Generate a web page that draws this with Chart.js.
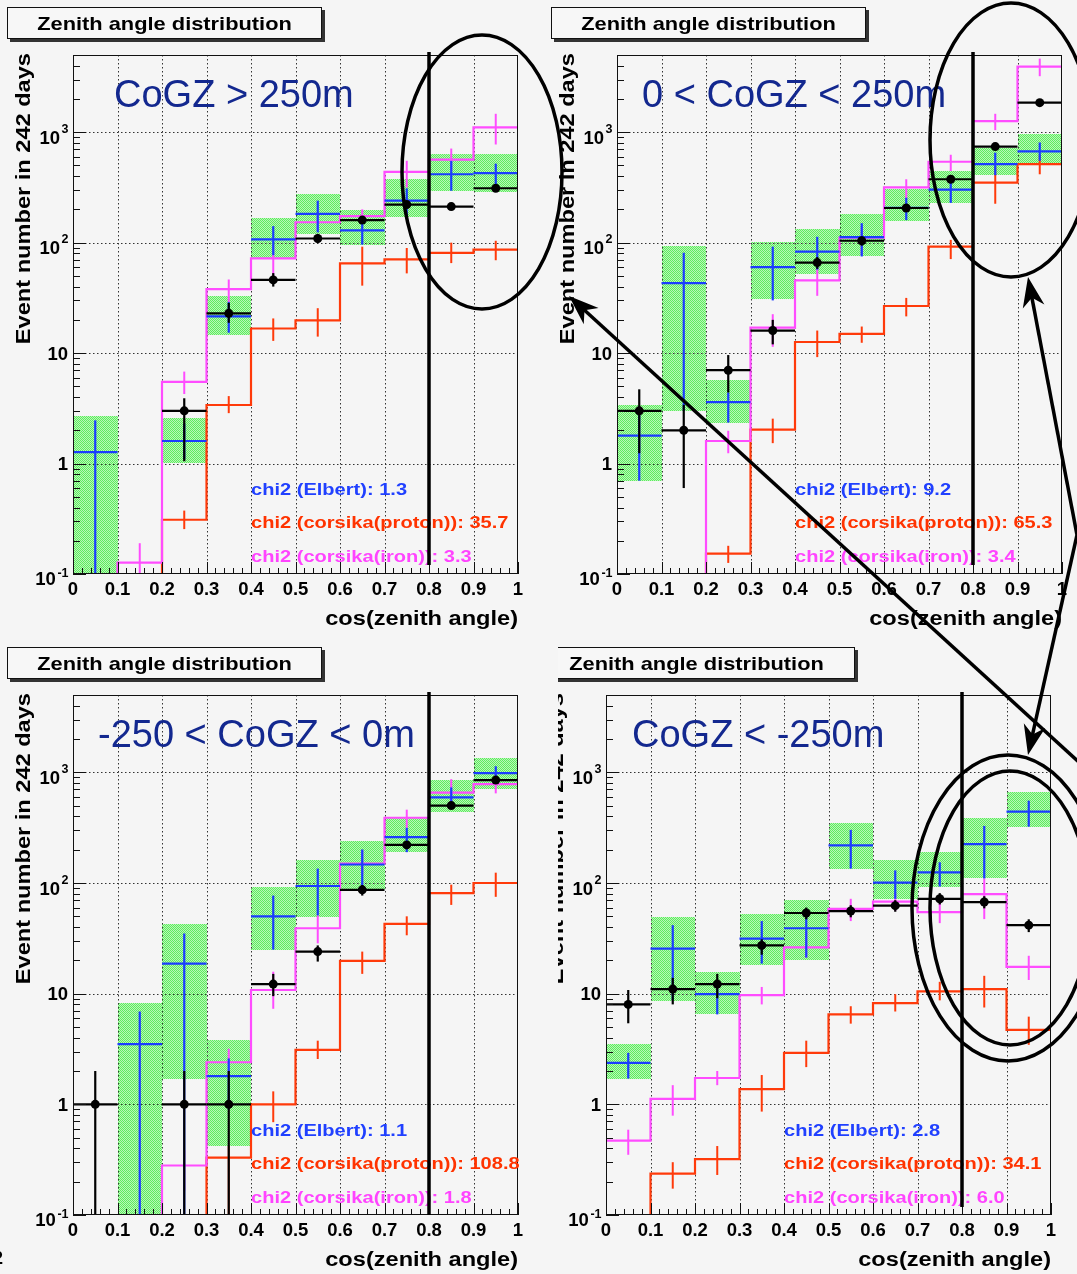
<!DOCTYPE html>
<html>
<head>
<meta charset="utf-8">
<script src="https://cdn.jsdelivr.net/npm/chart.js@4.4.1/dist/chart.umd.min.js"></script>
<style>
  html, body { margin: 0; padding: 0; background: #f5f5f5; }
  #page { position: relative; width: 1077px; height: 1274px; overflow: hidden; background: #f5f5f5; }
  #page canvas { position: absolute; }
  #overlay { z-index: 5; }
</style>
</head>
<body>
<div id="page">
  <canvas id="c1"></canvas>
  <canvas id="c2"></canvas>
  <canvas id="c3"></canvas>
  <canvas id="c4"></canvas>
  <canvas id="overlay" width="1077" height="1274" style="left:0;top:0"></canvas>
</div>
<script>
// ---- shared axis data
const binEdges = [0, 0.1, 0.2, 0.3, 0.4, 0.5, 0.6, 0.7, 0.8, 0.9, 1];
const xTickLabels = ['0', '0.1', '0.2', '0.3', '0.4', '0.5', '0.6', '0.7', '0.8', '0.9', '1'];
const yTickValues = [0.1, 1, 10, 100, 1000];
const yTickBase = ['10', '1', '10', '10', '10'];
const yTickExp = ['-1', '', '', '2', '3'];
const yMin = 0.1, yMax = 5000;
const cutValue = 0.8;

const panelTitle = 'Zenith angle distribution';
const xTitle = 'cos(zenith angle)';
const yTitle = 'Event number in 242 days';
const regionLabels = ['CoGZ > 250m', '0 < CoGZ < 250m', '-250 < CoGZ < 0m', 'CoGZ < -250m'];
const chi2Elbert = ['1.3', '9.2', '1.1', '2.8'];
const chi2Proton = ['35.7', '65.3', '108.8', '34.1'];
const chi2Iron = ['3.3', '3.4', '1.8', '6.0'];

// ---- panel 1: CoGZ > 250m
const bandLo1 = [0.1, null, 1.02, 14.7, 73, 120, 96, 170, 295, 288];
const bandHi1 = [2.67, null, 2.6, 33, 167, 275, 198, 375, 637, 637];
const elbert1 = [1.27, null, 1.6, 21.5, 107, 182, 129, 240, 416, 426];
const elbertLo1 = [0.1, null, 1.1, 15.3, 77, 124, 96, 174, 295, 330];
const elbertHi1 = [2.46, null, 2.3, 29, 141, 240, 170, 310, 550, 519];
const data1 = [null, null, 3.0, 22.9, 46, 109, 160, 221, 212, 311];
const dataLo1 = [null, null, 1.05, 18.8, 40, 99, 148, 207, 198, 294];
const dataHi1 = [null, null, 3.9, 28.5, 53, 120, 173, 236, 227, 329];
const proton1 = [0.1, 0.1, 0.31, 3.39, 16.7, 19.8, 65, 70.5, 80.7, 86.5];
const protonLo1 = [null, null, 0.255, 2.86, 12.9, 14.1, 40.8, 52.7, 65.3, 69.3];
const protonHi1 = [null, null, 0.375, 4.08, 20.6, 25.5, 92, 89.5, 100, 104];
const iron1 = [0.1, 0.127, 5.5, 38, 72, 153, 174, 437, 565, 1106];
const ironLo1 = [null, 0.1, 4.26, 29, 44.5, 130, 150, 316, 445, 774];
const ironHi1 = [null, 0.19, 6.8, 46.4, 95.7, 185, 200, 551, 711, 1468];

// ---- panel 2: 0 < CoGZ < 250m
const bandLo2 = [0.70, 3.0, 2.35, 31, 52, 75, 156, 229, 408, 527];
const bandHi2 = [3.36, 93.5, 5.7, 101, 132, 182, 308, 445, 723, 958];
const elbert2 = [1.79, 43, 3.6, 60, 83, 112, 207, 302, 514, 670];
const elbertLo2 = [0.7, 3.0, 2.35, 30, 57, 75, 160, 229, 408, 551];
const elbertHi2 = [3.16, 81, 4.4, 92, 113, 150, 255, 408, 653, 807];
const data2 = [3.0, 2.0, 7.0, 16, 66, 104, 206, 375, 741, 1850];
const dataLo2 = [1.24, 0.6, 4.4, 12, 58, 94, 192, 356, 714, 1807];
const dataHi2 = [4.7, 3.4, 9.6, 20, 74, 114, 220, 394, 768, 1893];
const proton2 = [0.1, 0.1, 0.153, 2.03, 12.6, 14.9, 26.7, 92, 350, 514];
const protonLo2 = [null, null, 0.126, 1.53, 9.2, 12.4, 21.5, 71, 225, 416];
const protonHi2 = [null, null, 0.18, 2.55, 16, 17.4, 31.6, 106, 484, 625];
const iron2 = [0.1, 0.1, 1.6, 17, 45.6, 111, 316, 540, 1260, 3920];
const ironLo2 = [null, null, 1.24, 11.4, 33, 77, 245, 445, 1044, 3215];
const ironHi2 = [null, null, 1.98, 22.5, 62.5, 141, 375, 625, 1468, 4640];

// ---- panel 3: -250 < CoGZ < 0m
const bandLo3 = [null, 0.1, 1.69, 0.42, 25, 49, 89, 190, 441, 713];
const bandHi3 = [null, 8.2, 42.7, 3.8, 92.7, 160, 238, 389, 845, 1343];
const elbert3 = [null, 3.5, 18.7, 1.8, 50, 94, 147, 260, 593, 984];
const elbertLo3 = [null, 0.1, 0.1, 0.9, 25, 51, 93, 190, 480, 830];
const elbertHi3 = [null, 6.9, 35, 2.6, 77, 135, 201, 315, 731, 1135];
const data3 = [1, null, 1, 1, 12.2, 24, 86.7, 221, 501, 851];
const dataLo3 = [0.1, null, 0.1, 0.1, 9.5, 19.5, 77, 206, 479, 822];
const dataHi3 = [2.0, null, 2.0, 2.0, 15.1, 27.3, 96, 236, 523, 880];
const proton3 = [0.1, 0.1, 0.1, 0.33, 1.0, 3.1, 19.8, 42.7, 81, 100];
const protonLo3 = [null, null, null, 0.1, 0.69, 2.57, 15.1, 33.7, 63.4, 75];
const protonHi3 = [null, null, null, 0.42, 1.31, 3.76, 24, 50, 96.6, 124];
const iron3 = [0.1, 0.1, 0.28, 2.4, 10.8, 39, 150, 389, 656, 783];
const ironLo3 = [null, null, 0.166, 1.76, 7.3, 28.5, 119, 315, 501, 646];
const ironHi3 = [null, null, 0.385, 3.18, 15.8, 51, 198, 460, 867, 984];

// ---- panel 4: CoGZ < -250m
const bandLo4 = [1.69, 8.5, 6.5, 18.2, 20.3, 133, 72, 93, 112, 320];
const bandHi4 = [3.5, 49, 15.8, 52.7, 70, 348, 160, 190, 389, 661];
const elbert4 = [2.37, 25.5, 9.9, 31.5, 39, 219, 101, 125, 225, 442];
const elbertLo4 = [1.71, 8.7, 6.5, 18.7, 21.2, 135, 72, 93, 110, 323];
const elbertHi4 = [2.92, 41.6, 11.2, 45.3, 55.8, 302, 130, 154, 328, 555];
const data4 = [8.0, 11, 12.2, 27.3, 53.6, 55.8, 62.4, 72, 67.3, 41.6];
const dataLo4 = [5.4, 8.0, 9.1, 22.5, 47, 49, 55, 64, 59, 36];
const dataHi4 = [10.8, 13.9, 15.1, 31, 60, 63, 70, 81, 76, 47];
const proton4 = [0.1, 0.237, 0.32, 1.37, 2.92, 6.5, 8.2, 10.5, 11, 4.7];
const protonLo4 = [null, 0.173, 0.23, 0.86, 2.17, 5.36, 6.9, 8.7, 7.5, 3.45];
const protonHi4 = [null, 0.3, 0.42, 1.84, 3.76, 7.7, 9.9, 12.8, 14.5, 6.2];
const iron4 = [0.47, 1.12, 1.73, 9.7, 26.2, 58.3, 68, 54.5, 79.4, 17.5];
const ironLo4 = [0.35, 0.79, 1.49, 8.0, 21.2, 45.3, 55.8, 43.4, 47.2, 13.3];
const ironHi4 = [0.59, 1.49, 2.0, 11.5, 36.6, 72, 81.7, 75, 110, 22];

// ---- styles
const RED = '#ff3a0a';
const MAGENTA = '#ff4cff';
const BLUE = '#1a3cff';
const NAVY = '#13288f';
const FONT = '"Liberation Sans", Arial, Helvetica, sans-serif';
const STRETCH = 1.18; // ROOT's bold font runs wider than Liberation Sans Bold

// canvas placement and plot area padding for each panel
const layouts = [
  { id: 'c1', left: 0, top: 0, width: 540, height: 640, pad: { left: 73, top: 55, right: 22, bottom: 66 }, labelX: 41, lineGap: 9 },
  { id: 'c2', left: 540, top: 0, width: 537, height: 640, pad: { left: 77, top: 55, right: 15, bottom: 66 }, labelX: 25, lineGap: 9 },
  { id: 'c3', left: 0, top: 640, width: 540, height: 634, pad: { left: 73, top: 55, right: 22, bottom: 59 }, labelX: 25, lineGap: 0 },
  { id: 'c4', left: 558, top: 640, width: 519, height: 634, pad: { left: 48, top: 55, right: 26, bottom: 59 }, labelX: 26, lineGap: 8 }
];

const panelData = [
  { bandLo: bandLo1, bandHi: bandHi1, elbert: elbert1, elbertLo: elbertLo1, elbertHi: elbertHi1, data: data1, dataLo: dataLo1, dataHi: dataHi1, proton: proton1, protonLo: protonLo1, protonHi: protonHi1, iron: iron1, ironLo: ironLo1, ironHi: ironHi1 },
  { bandLo: bandLo2, bandHi: bandHi2, elbert: elbert2, elbertLo: elbertLo2, elbertHi: elbertHi2, data: data2, dataLo: dataLo2, dataHi: dataHi2, proton: proton2, protonLo: protonLo2, protonHi: protonHi2, iron: iron2, ironLo: ironLo2, ironHi: ironHi2 },
  { bandLo: bandLo3, bandHi: bandHi3, elbert: elbert3, elbertLo: elbertLo3, elbertHi: elbertHi3, data: data3, dataLo: dataLo3, dataHi: dataHi3, proton: proton3, protonLo: protonLo3, protonHi: protonHi3, iron: iron3, ironLo: ironLo3, ironHi: ironHi3 },
  { bandLo: bandLo4, bandHi: bandHi4, elbert: elbert4, elbertLo: elbertLo4, elbertHi: elbertHi4, data: data4, dataLo: dataLo4, dataHi: dataHi4, proton: proton4, protonLo: protonLo4, protonHi: protonHi4, iron: iron4, ironLo: ironLo4, ironHi: ironHi4 }
];

// histogram outline as stepped points (one per bin edge)
function stepPoints(vals) {
  return binEdges.map((e, i) => ({ x: e, y: vals[Math.min(i, vals.length - 1)] }));
}

function greenPattern(ctx) {
  const c = document.createElement('canvas');
  c.width = 2; c.height = 2;
  const g = c.getContext('2d');
  g.fillStyle = '#b8f7b8';
  g.fillRect(0, 0, 2, 2);
  g.fillStyle = '#5eec5e';
  g.fillRect(0, 0, 1, 1);
  g.fillRect(1, 1, 1, 1);
  return ctx.createPattern(c, 'repeat');
}

function line(ctx, x0, y0, x1, y1) {
  ctx.beginPath();
  ctx.moveTo(x0, y0);
  ctx.lineTo(x1, y1);
  ctx.stroke();
}

// bold text, stretched horizontally like the ROOT font
function wideText(ctx, text, x, y, size, color, align) {
  ctx.save();
  ctx.font = 'bold ' + size + 'px ' + FONT;
  ctx.fillStyle = color;
  ctx.textAlign = 'left';
  ctx.textBaseline = 'alphabetic';
  const w = ctx.measureText(text).width * STRETCH;
  const x0 = align === 'center' ? x - w / 2 : align === 'right' ? x - w : x;
  ctx.translate(x0, y);
  ctx.scale(STRETCH, 1);
  ctx.fillText(text, 0, 0);
  ctx.restore();
}

function rootPanel(p, lay, idx) {
  return {
    id: 'rootPanel' + idx,
    beforeDatasetsDraw(chart) {
      const { ctx, chartArea: a } = chart;
      const X = v => chart.scales.x.getPixelForValue(v);
      const Y = v => chart.scales.y.getPixelForValue(v);
      ctx.save();
      ctx.beginPath();
      ctx.rect(a.left, a.top, a.right - a.left, a.bottom - a.top);
      ctx.clip();
      // Elbert uncertainty band
      ctx.fillStyle = greenPattern(ctx);
      p.bandLo.forEach((lo, i) => {
        if (lo == null) return;
        const x0 = Math.round(X(binEdges[i])), x1 = Math.round(X(binEdges[i + 1]));
        const y0 = Math.round(Y(p.bandHi[i])), y1 = Math.round(Y(lo));
        ctx.fillRect(x0, y0, x1 - x0, y1 - y0);
      });
      // dotted grid
      ctx.strokeStyle = '#333';
      ctx.lineWidth = 1;
      ctx.setLineDash([1.5, 2.5]);
      for (let k = 1; k < binEdges.length - 1; k++) {
        const xx = Math.round(X(binEdges[k])) + 0.5;
        line(ctx, xx, a.top, xx, a.bottom);
      }
      yTickValues.slice(1).forEach(v => {
        const yy = Math.round(Y(v)) + 0.5;
        line(ctx, a.left, yy, a.right, yy);
      });
      ctx.restore();
    },
    afterDatasetsDraw(chart) {
      const { ctx, chartArea: a } = chart;
      const X = v => chart.scales.x.getPixelForValue(v);
      const Y = v => chart.scales.y.getPixelForValue(v);
      const mid = i => X((binEdges[i] + binEdges[i + 1]) / 2);

      ctx.save();
      ctx.beginPath();
      ctx.rect(a.left, a.top - 2, a.right - a.left, a.bottom - a.top + 2);
      ctx.clip();
      ctx.lineCap = 'butt';

      // MC error bars
      const errBars = (lo, hi, color) => {
        ctx.strokeStyle = color;
        ctx.lineWidth = 2;
        lo.forEach((l, i) => {
          if (l == null) return;
          line(ctx, mid(i), Y(l), mid(i), Y(hi[i]));
        });
      };
      errBars(p.protonLo, p.protonHi, RED);
      errBars(p.ironLo, p.ironHi, MAGENTA);

      // Elbert crosses
      ctx.strokeStyle = BLUE;
      ctx.lineWidth = 2.2;
      p.elbert.forEach((v, i) => {
        if (v == null) return;
        line(ctx, X(binEdges[i]), Y(v), X(binEdges[i + 1]), Y(v));
        line(ctx, mid(i), Y(p.elbertLo[i]), mid(i), Y(p.elbertHi[i]));
      });

      // measured data
      ctx.strokeStyle = '#000';
      ctx.fillStyle = '#000';
      ctx.lineWidth = 2.2;
      p.data.forEach((v, i) => {
        if (v == null) return;
        line(ctx, X(binEdges[i]), Y(v), X(binEdges[i + 1]), Y(v));
        line(ctx, mid(i), Y(p.dataLo[i]), mid(i), Y(p.dataHi[i]));
        ctx.beginPath();
        ctx.arc(mid(i), Y(v), 4.5, 0, Math.PI * 2);
        ctx.fill();
      });
      ctx.restore();

      // frame and ticks
      ctx.save();
      ctx.strokeStyle = '#111';
      ctx.lineWidth = 1;
      ctx.strokeRect(a.left + 0.5, a.top + 0.5, a.right - a.left - 1, a.bottom - a.top - 1);
      for (let d = -1; d <= 3; d++) {
        for (let m = 1; m <= 9; m++) {
          const v = m * Math.pow(10, d);
          if (v >= yMax) break;
          const yy = Math.round(Y(v)) + 0.5;
          line(ctx, a.left, yy, a.left + (m === 1 ? 13 : 7), yy);
        }
      }
      for (let k = 0; k <= 50; k++) {
        const xx = Math.round(X(k / 50)) + 0.5;
        line(ctx, xx, a.bottom, xx, a.bottom - (k % 5 === 0 ? 12 : 6));
      }

      // tick labels
      ctx.fillStyle = '#000';
      ctx.font = 'bold 18.5px ' + FONT;
      ctx.textAlign = 'center';
      ctx.textBaseline = 'alphabetic';
      xTickLabels.forEach((t, k) => ctx.fillText(t, X(binEdges[k]), a.bottom + 21));
      yTickValues.forEach((v, k) => {
        const yy = Y(v);
        const exp = yTickExp[k];
        if (!exp) {
          ctx.font = 'bold 18.5px ' + FONT;
          ctx.textAlign = 'right';
          ctx.fillText(yTickBase[k], a.left - 5, yy + 6.5);
        } else {
          ctx.font = 'bold 12.5px ' + FONT;
          const ew = ctx.measureText(exp).width;
          const right = a.left - 6 - Math.max(ew, 7);
          ctx.textAlign = 'left';
          ctx.fillText(exp, right + 1.5, yy + (v < 1 ? 2.5 : 0.5));
          ctx.font = 'bold 18.5px ' + FONT;
          ctx.textAlign = 'right';
          ctx.fillText(yTickBase[k], right, yy + (v < 1 ? 11 : 11.5));
        }
      });
      ctx.restore();

      // axis titles
      wideText(ctx, xTitle, a.right, a.bottom + 51, 20, '#000', 'right');
      ctx.save();
      ctx.translate(a.left - 43, a.top - 2);
      ctx.rotate(-Math.PI / 2);
      wideText(ctx, yTitle, 0, 0, 20, '#000', 'right');
      ctx.restore();

      // title box
      ctx.save();
      const bx0 = a.left - (idx === 3 ? 68 : 66), bx1 = a.left + 249, by0 = a.top - 48, by1 = a.top - 16;
      ctx.fillStyle = '#333';
      ctx.fillRect(bx0 + 3, by0 + 3, bx1 - bx0, by1 - by0);
      ctx.fillStyle = '#f7f7f7';
      ctx.fillRect(bx0, by0, bx1 - bx0, by1 - by0);
      ctx.strokeStyle = '#111';
      ctx.lineWidth = 1;
      ctx.strokeRect(bx0 + 0.5, by0 + 0.5, bx1 - bx0 - 1, by1 - by0 - 1);
      ctx.restore();
      wideText(ctx, panelTitle, (bx0 + bx1) / 2, a.top - 25, 18.5, '#000', 'center');

      // region label
      ctx.save();
      ctx.font = '38px ' + FONT;
      ctx.fillStyle = NAVY;
      ctx.textAlign = 'left';
      ctx.fillText(regionLabels[idx], a.left + lay.labelX, a.top + 52);
      ctx.restore();

      // chi2 summary
      const cx = X(0.4);
      wideText(ctx, 'chi2 (Elbert): ' + chi2Elbert[idx], cx, a.bottom - 79, 17, '#2040ff', 'left');
      wideText(ctx, 'chi2 (corsika(proton)): ' + chi2Proton[idx], cx, a.bottom - 46, 17, '#ff3300', 'left');
      wideText(ctx, 'chi2 (corsika(iron)): ' + chi2Iron[idx], cx, a.bottom - 12, 17, '#ff44ff', 'left');

      // cut line at cos = 0.8
      ctx.save();
      ctx.fillStyle = '#000';
      ctx.fillRect(X(cutValue) - 1.75, a.top - 3, 3.5, a.bottom - lay.lineGap - a.top + 3);
      ctx.restore();
    }
  };
}

function makePanel(idx) {
  const lay = layouts[idx];
  const p = panelData[idx];
  const canvas = document.getElementById(lay.id);
  canvas.width = lay.width;
  canvas.height = lay.height;
  canvas.style.left = lay.left + 'px';
  canvas.style.top = lay.top + 'px';
  return new Chart(canvas, {
    type: 'scatter',
    data: {
      datasets: [
        { label: 'corsika iron', data: stepPoints(p.iron), showLine: true, stepped: true, borderColor: MAGENTA, borderWidth: 2.2, pointRadius: 0, fill: false },
        { label: 'corsika proton', data: stepPoints(p.proton), showLine: true, stepped: true, borderColor: RED, borderWidth: 2.2, pointRadius: 0, fill: false }
      ]
    },
    options: {
      responsive: false,
      animation: false,
      events: [],
      layout: { padding: lay.pad },
      plugins: { legend: { display: false }, tooltip: { enabled: false } },
      scales: {
        x: { type: 'linear', min: 0, max: 1, display: false },
        y: { type: 'logarithmic', min: yMin, max: yMax, display: false }
      }
    },
    plugins: [rootPanel(p, lay, idx)]
  });
}

[0, 1, 2, 3].forEach(makePanel);

// ---- hand-drawn annotations on top of the four panels
const ellipses = [
  { x: 482, y: 172, rx: 80, ry: 137 },
  { x: 1011, y: 140, rx: 81, ry: 137 },
  { x: 1008, y: 908, rx: 96, ry: 153 },
  { x: 1010, y: 908, rx: 80, ry: 137 }
];
const arrows = [
  { from: [1092, 774], to: [569, 296] },
  { from: [1077, 535], to: [1028, 277] },
  { from: [1077, 535], to: [1028, 755] }
];

const ov = document.getElementById('overlay').getContext('2d');
ov.strokeStyle = '#000';
ov.fillStyle = '#000';
ov.lineWidth = 3.5;
ellipses.forEach(e => {
  ov.beginPath();
  ov.ellipse(e.x, e.y, e.rx, e.ry, 0, 0, Math.PI * 2);
  ov.stroke();
});
arrows.forEach(ar => {
  const [x0, y0] = ar.from, [x1, y1] = ar.to;
  const ang = Math.atan2(y1 - y0, x1 - x0);
  const len = 30, half = 11;
  const bx = x1 - Math.cos(ang) * len, by = y1 - Math.sin(ang) * len;
  ov.beginPath();
  ov.moveTo(x0, y0);
  ov.lineTo(x1 - Math.cos(ang) * 10, y1 - Math.sin(ang) * 10);
  ov.stroke();
  ov.beginPath();
  ov.moveTo(x1, y1);
  ov.lineTo(bx - Math.sin(ang) * half, by + Math.cos(ang) * half);
  ov.lineTo(x1 - Math.cos(ang) * len * 0.7, y1 - Math.sin(ang) * len * 0.7);
  ov.lineTo(bx + Math.sin(ang) * half, by - Math.cos(ang) * half);
  ov.closePath();
  ov.fill();
});
ov.font = 'bold 18px ' + FONT;
ov.fillText('2', -7, 1264);
</script>
</body>
</html>
